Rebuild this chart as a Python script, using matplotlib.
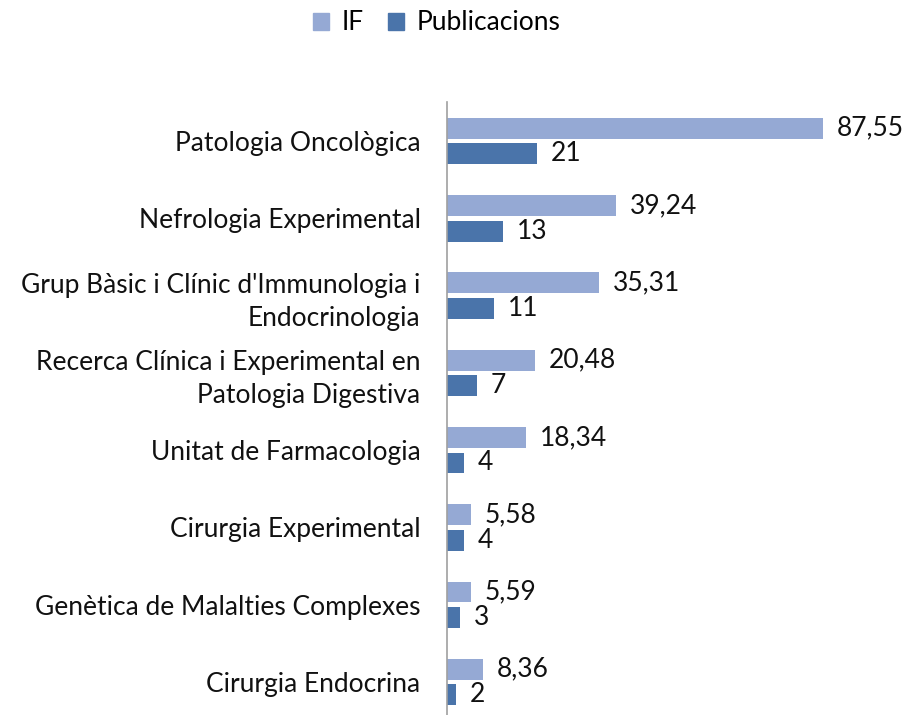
import matplotlib
matplotlib.use("Agg")
import matplotlib.pyplot as plt
import numpy as np
from matplotlib.patches import Patch

categories = ["Patologia Oncològica", "Nefrologia Experimental",
              "Grup Bàsic i Clínic d'Immunologia i\nEndocrinologia",
              "Recerca Clínica i Experimental en\nPatologia Digestiva",
              "Unitat de Farmacologia", "Cirurgia Experimental",
              "Genètica de Malalties Complexes", "Cirurgia Endocrina"]
if_values = [87.55, 39.24, 35.31, 20.48, 18.34, 5.58, 5.59, 8.36]
pub_values = [21, 13, 11, 7, 4, 4, 3, 2]
series_names = ["IF", "Publicacions"]

c_if = "#95A9D4"
c_pub = "#4A74AA"
plt.rcParams['font.family'] = ['Lato', 'DejaVu Sans']
fs = 19

fig = plt.figure(figsize=(9.1, 7.15), dpi=100)
ax = fig.add_axes([447/910, 1 - 720.7/715, 430/910, (720.7 - 102.4)/715])

y = np.arange(len(categories))
h = 0.27
off = 0.165
ax.barh(y - off, if_values, height=h, color=c_if)
ax.barh(y + off, pub_values, height=h, color=c_pub)

for yi, v in zip(y, if_values):
    ax.text(v + 3.2, yi - off, f"{v:.2f}".replace(".", ","), va="center", ha="left", fontsize=fs, color="#111111")
for yi, v in zip(y, pub_values):
    ax.text(v + 3.2, yi + off, f"{v}", va="center", ha="left", fontsize=fs, color="#111111")

ax.set_xlim(0, 100)
ax.set_ylim(len(categories) - 0.5, -0.5)
ax.set_yticks(y)
ax.set_yticklabels(categories, fontsize=fs, linespacing=1.4, color="#111111")
ax.tick_params(axis="y", length=0, pad=19)
ax.set_xticks([])
for s in ["top", "right", "bottom"]:
    ax.spines[s].set_visible(False)
ax.spines["left"].set_color("#A0A0A0")
ax.spines["left"].set_linewidth(1.2)

handles = [Patch(color=c_if), Patch(color=c_pub)]
fig.legend(handles, series_names, loc="center", bbox_to_anchor=(437/910, 1 - 23/715),
           ncol=2, frameon=False, fontsize=fs, handlelength=0.6, handleheight=0.6,
           handletextpad=0.5, columnspacing=0.9)

fig.savefig("out.png", dpi=100)
